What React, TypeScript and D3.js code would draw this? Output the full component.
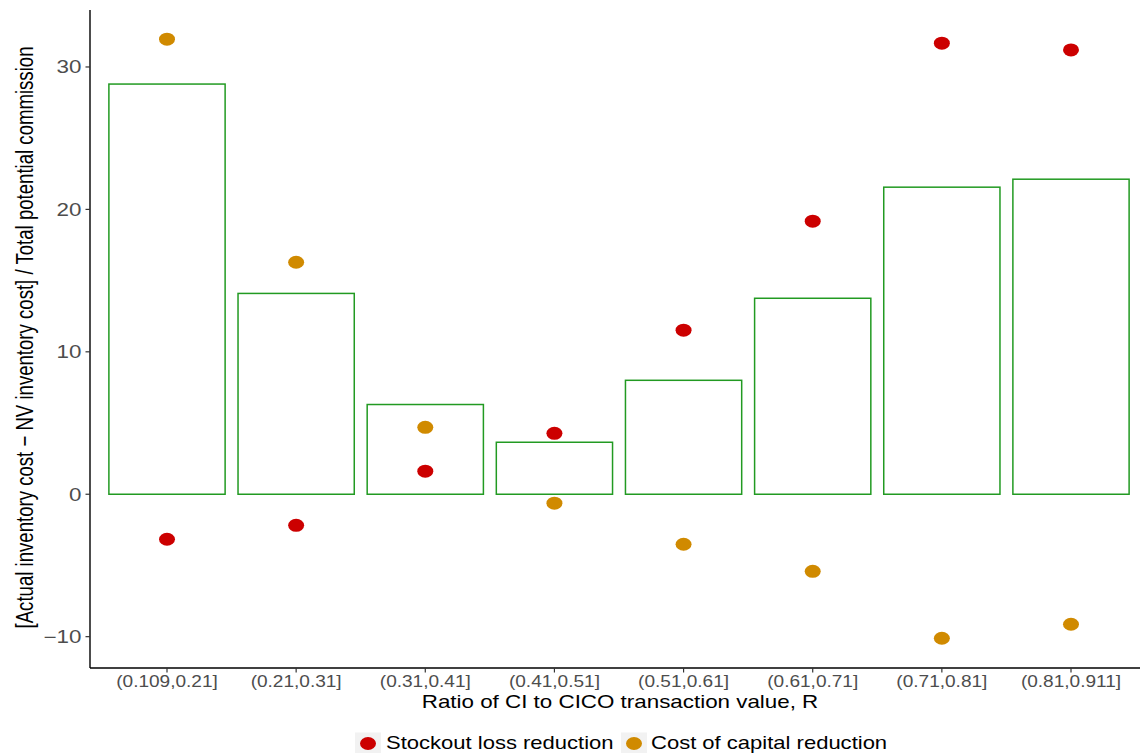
import React, { useEffect } from "react";
import * as d3 from "d3";

const categories = ["(0.109,0.21]", "(0.21,0.31]", "(0.31,0.41]", "(0.41,0.51]", "(0.51,0.61]", "(0.61,0.71]", "(0.71,0.81]", "(0.81,0.911]"];
const totalValues = [28.8, 14.1, 6.3, 3.65, 8.0, 13.76, 21.56, 22.12];
const stockoutValues = [-3.16, -2.18, 1.62, 4.28, 11.52, 19.17, 31.67, 31.2];
const capitalValues = [31.95, 16.29, 4.7, -0.63, -3.51, -5.41, -10.11, -9.13];
const yTicks = [-10, 0, 10, 20, 30];
const seriesNames = ["Stockout loss reduction", "Cost of capital reduction"];

const W = 1140;
const H = 753;
const FONT = "'Liberation Sans', Arial, Helvetica, sans-serif";
const RED = "#CC0000";
const ORANGE = "#D08A00";
const GREEN = "#229A22";

export default function App() {
  useEffect(() => {
    document.body.style.margin = "0";
  }, []);

  const x = d3
    .scaleBand<string>()
    .domain(categories)
    .range([102.43, 1135.57])
    .paddingInner(0)
    .paddingOuter(0);
  const step = x.bandwidth();
  const cx = (c: string) => (x(c) as number) + step / 2;
  const barW = step * 0.9;

  const y = d3.scaleLinear().domain([-12.2, 34.0]).range([668, 10]);

  const axisX0 = 90;
  const axisY0 = 668;

  const pts: { c: string; v: number; color: string }[] = [];
  categories.forEach((c, i) => {
    pts.push({ c, v: capitalValues[i], color: ORANGE });
    pts.push({ c, v: stockoutValues[i], color: RED });
  });

  const legendItems = [
    { name: seriesNames[0], color: RED, box: 355, text: 386 },
    { name: seriesNames[1], color: ORANGE, box: 621, text: 651 },
  ];

  return (
    <svg
      width={W}
      height={H}
      viewBox={`0 0 ${W} ${H}`}
      style={{ display: "block", position: "absolute", left: 0, top: 0, background: "#fff" }}
      fontFamily={FONT}
    >
      <rect x={0} y={0} width={W} height={H} fill="#fff" />
      {categories.map((c, i) => (
        <rect
          key={"b" + c}
          x={cx(c) - barW / 2}
          y={y(Math.max(0, totalValues[i]))}
          width={barW}
          height={Math.abs(y(totalValues[i]) - y(0))}
          fill="none"
          stroke={GREEN}
          strokeWidth={1.5}
        />
      ))}
      {pts.map((p, i) => (
        <ellipse key={"p" + i} cx={cx(p.c)} cy={y(p.v)} rx={8} ry={6.5} fill={p.color} />
      ))}
      <line x1={axisX0} x2={axisX0} y1={10} y2={axisY0} stroke="#000" strokeWidth={1.4} />
      <line x1={axisX0} x2={W} y1={axisY0} y2={axisY0} stroke="#000" strokeWidth={1.4} />
      {yTicks.map((t) => (
        <g key={"yt" + t}>
          <line x1={axisX0 - 4.5} x2={axisX0} y1={y(t)} y2={y(t)} stroke="#333" strokeWidth={1.2} />
          <text
            transform={`translate(${81.5},${y(t) + 6.3}) scale(1.28,1)`}
            textAnchor="end"
            fontSize={17.5}
            fill="#4D4D4D"
          >
            {t < 0 ? "\u2212" + Math.abs(t) : String(t)}
          </text>
        </g>
      ))}
      {categories.map((c) => (
        <g key={"xt" + c}>
          <line x1={cx(c)} x2={cx(c)} y1={axisY0} y2={axisY0 + 4.5} stroke="#333" strokeWidth={1.2} />
          <text
            transform={`translate(${cx(c)},${686.5}) scale(1.19,1)`}
            textAnchor="middle"
            fontSize={16}
            fill="#4D4D4D"
          >
            {c}
          </text>
        </g>
      ))}
      <text
        transform={`translate(${620},${707.5}) scale(1.21,1)`}
        textAnchor="middle"
        fontSize={18.5}
        fill="#000"
      >
        Ratio of CI to CICO transaction value, R
      </text>
      <text
        transform={`translate(${33},${337.5}) scale(1.3,1) rotate(-90)`}
        textAnchor="middle"
        fontSize={18.6}
        fill="#000"
      >
        [Actual inventory cost − NV inventory cost] / Total potential commission
      </text>
      {legendItems.map((l) => (
        <g key={"l" + l.name}>
          <rect x={l.box} y={732.5} width={26} height={24} fill="#F2F2F2" />
          <ellipse cx={l.box + 13} cy={743.5} rx={8} ry={6.5} fill={l.color} />
          <text
            transform={`translate(${l.text},${749.3}) scale(1.19,1)`}
            textAnchor="start"
            fontSize={18.5}
            fill="#000"
          >
            {l.name}
          </text>
        </g>
      ))}
    </svg>
  );
}
